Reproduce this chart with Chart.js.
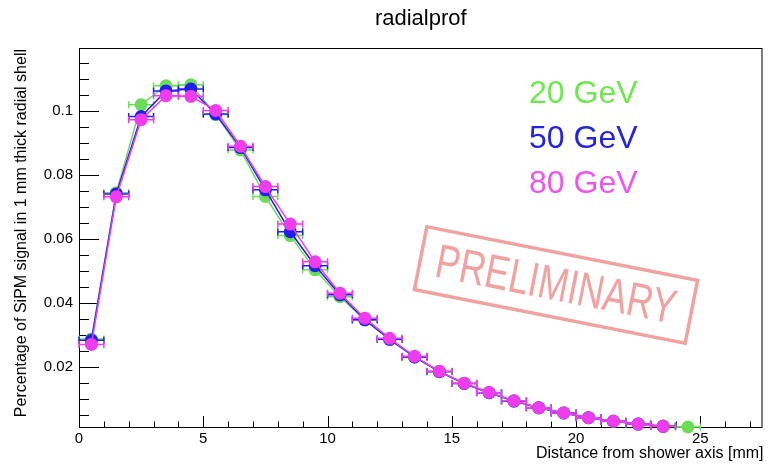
<!DOCTYPE html>
<html>
<head>
<meta charset="utf-8">
<script src="https://cdn.jsdelivr.net/npm/chart.js@4.4.1/dist/chart.umd.min.js"></script>
<style>
  html, body { margin: 0; padding: 0; background: #fff; }
  canvas { display: block; }
</style>
</head>
<body>
<canvas id="myChart" width="769" height="466"></canvas>
<script>
// bin centres along the shower radius [mm] and the half bin width
const radius = [0.5, 1.5, 2.5, 3.5, 4.5, 5.5, 6.5, 7.5, 8.5, 9.5, 10.5, 11.5, 12.5,
  13.5, 14.5, 15.5, 16.5, 17.5, 18.5, 19.5, 20.5, 21.5, 22.5, 23.5, 24.5];
const xErr = 0.5;

// fraction of signal per 1 mm shell
const e20 = [0.0287, 0.0744, 0.1019, 0.1078, 0.1081, 0.0988, 0.0877, 0.0732, 0.0610,
  0.0503, 0.0419, 0.0346, 0.0285, 0.0230, 0.0184, 0.0148, 0.0119, 0.0093, 0.0072,
  0.0056, 0.0041, 0.0030, 0.0021, 0.0015, 0.0012];
const e50 = [0.0283, 0.0740, 0.0982, 0.1062, 0.1068, 0.0990, 0.0885, 0.0753, 0.0622,
  0.0516, 0.0425, 0.0347, 0.0286, 0.0231, 0.0185, 0.0148, 0.0119, 0.0093, 0.0072,
  0.0056, 0.0041, 0.0030, 0.0021, 0.0014];
const e80 = [0.0270, 0.0731, 0.0972, 0.1047, 0.1045, 0.1001, 0.0889, 0.0763, 0.0646,
  0.0528, 0.0430, 0.0352, 0.0289, 0.0233, 0.0186, 0.0149, 0.0120, 0.0094, 0.0072,
  0.0056, 0.0041, 0.0030, 0.0021, 0.0014];

const energyLabels = ["20 GeV", "50 GeV", "80 GeV"];
const xTicks = [0, 5, 10, 15, 20, 25];
const yTicks = [0.02, 0.04, 0.06, 0.08, 0.1];

const colors = ["#6bdc58", "#2020ee", "#ee3cee"];
const textColors = ["#6ee84e", "#2424e0", "#ee55ee"];
const FONT = "'Liberation Sans', Arial, Helvetica, sans-serif";

function toPoints(vals) {
  return vals.map((v, i) => ({ x: radius[i], y: v }));
}

// horizontal error bars, drawn just before each dataset
const errorBars = {
  id: "errorBars",
  beforeDatasetDraw(chart, args) {
    const ctx = chart.ctx;
    const xs = chart.scales.x;
    const ys = chart.scales.y;
    const ds = chart.data.datasets[args.index];
    ctx.save();
    ctx.strokeStyle = ds.borderColor;
    ctx.lineWidth = 1.5;
    ds.data.forEach((p) => {
      const x1 = xs.getPixelForValue(p.x - xErr);
      const x2 = xs.getPixelForValue(p.x + xErr);
      const y = ys.getPixelForValue(p.y);
      ctx.beginPath();
      ctx.moveTo(x1, y); ctx.lineTo(x2, y);
      ctx.moveTo(x1, y - 3.5); ctx.lineTo(x1, y + 3.5);
      ctx.moveTo(x2, y - 3.5); ctx.lineTo(x2, y + 3.5);
      ctx.stroke();
    });
    ctx.restore();
  },
};

// ROOT style frame, inner ticks, titles, text legend and the stamp
const decorations = {
  id: "decorations",
  beforeDatasetsDraw(chart) {
    const ctx = chart.ctx;
    const a = chart.chartArea;
    const xs = chart.scales.x;
    const ys = chart.scales.y;
    ctx.save();
    ctx.strokeStyle = "#000";
    ctx.lineWidth = 1;
    ctx.strokeRect(a.left + 0.5, a.top + 0.5, a.right - a.left - 1, a.bottom - a.top);
    ctx.beginPath();
    for (let v = 1; v <= 27; v++) {
      const x = Math.round(xs.getPixelForValue(v)) + 0.5;
      const len = v % 5 === 0 ? 11 : 5.5;
      ctx.moveTo(x, a.bottom);
      ctx.lineTo(x, a.bottom - len);
    }
    for (let k = 1; k <= 23; k++) {
      const v = k * 0.005;
      const y = Math.round(ys.getPixelForValue(v)) + 0.5;
      const len = k % 4 === 0 ? 20 : 10;
      ctx.moveTo(a.left, y);
      ctx.lineTo(a.left + len, y);
    }
    ctx.stroke();

    // stamp
    ctx.save();
    ctx.translate(556, 285);
    ctx.rotate((11.2 * Math.PI) / 180);
    ctx.strokeStyle = "rgba(240,145,145,0.85)";
    ctx.lineWidth = 3.5;
    ctx.strokeRect(-138, -32, 276, 64);
    ctx.fillStyle = "rgba(240,145,145,0.85)";
    ctx.font = "48px 'Liberation Sans Narrow', " + FONT;
    ctx.textAlign = "center";
    ctx.textBaseline = "middle";
    const w = ctx.measureText("PRELIMINARY").width;
    ctx.scale(244 / w, 1);
    ctx.fillText("PRELIMINARY", 0, 2);
    ctx.restore();

    ctx.restore();
  },
  afterDraw(chart) {
    const ctx = chart.ctx;
    const a = chart.chartArea;
    ctx.save();
    ctx.fillStyle = "#000";
    ctx.font = "22px " + FONT;
    ctx.textAlign = "center";
    ctx.textBaseline = "middle";
    ctx.fillText("radialprof", (a.left + a.right) / 2, 19);

    ctx.font = "16px " + FONT;
    ctx.textAlign = "right";
    ctx.textBaseline = "alphabetic";
    ctx.fillText("Distance from shower axis [mm]", a.right + 1, 458);

    ctx.save();
    ctx.translate(26, a.top);
    ctx.rotate(-Math.PI / 2);
    ctx.textAlign = "right";
    ctx.fillText("Percentage of SiPM signal in 1 mm thick radial shell", -1, 0);
    ctx.restore();

    ctx.font = "32px " + FONT;
    ctx.textAlign = "left";
    ctx.textBaseline = "middle";
    const legY = [94, 139, 184];
    energyLabels.forEach((t, i) => {
      ctx.fillStyle = textColors[i];
      ctx.fillText(t, 529, legY[i]);
    });
    ctx.restore();
  },
};

const series = [e20, e50, e80];
const ctx = document.getElementById("myChart").getContext("2d");
const myChart = new Chart(ctx, {
  type: "line",
  data: {
    datasets: series.map((vals, i) => ({
      label: energyLabels[i],
      data: toPoints(vals),
      borderColor: colors[i],
      backgroundColor: colors[i],
      borderWidth: 1.5,
      pointRadius: 6.5,
      pointBorderWidth: 0,
      pointBackgroundColor: colors[i],
      tension: 0,
      fill: false,
      clip: false,
      order: 2 - i,
    })),
  },
  options: {
    responsive: false,
    animation: false,
    devicePixelRatio: 1,
    layout: { padding: { top: 48, right: 1, left: 0, bottom: 0 } },
    plugins: { legend: { display: false }, title: { display: false }, tooltip: { enabled: false } },
    scales: {
      x: {
        type: "linear",
        min: 0,
        max: 27.5,
        grid: { display: false, drawTicks: false },
        border: { display: false },
        ticks: { color: "#000", font: { size: 15, family: FONT }, padding: 3, maxRotation: 0 },
        afterBuildTicks: (s) => { s.ticks = xTicks.map((v) => ({ value: v })); },
        afterFit: (s) => { s.height = 39; },
      },
      y: {
        type: "linear",
        min: 0.0012,
        max: 0.1196,
        grid: { display: false, drawTicks: false },
        border: { display: false },
        ticks: {
          color: "#000",
          font: { size: 15, family: FONT },
          padding: 6,
          callback: (v) => String(Math.round(v * 100) / 100),
        },
        afterBuildTicks: (s) => { s.ticks = yTicks.map((v) => ({ value: v })); },
        afterFit: (s) => { s.width = 79; },
      },
    },
  },
  plugins: [errorBars, decorations],
});
</script>
</body>
</html>
